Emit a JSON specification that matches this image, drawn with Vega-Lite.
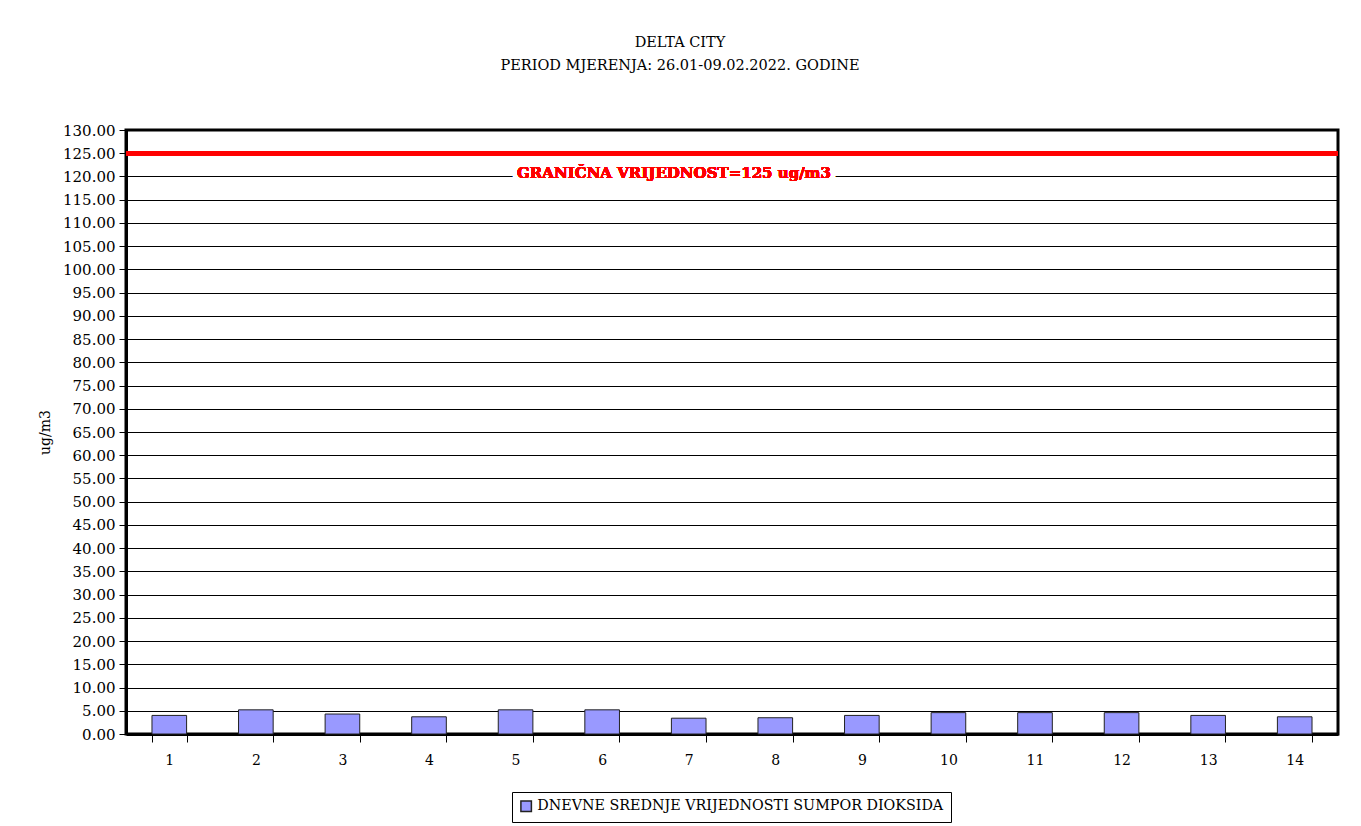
{
  "$schema": "https://vega.github.io/schema/vega-lite/v6.json",
  "autosize": {"type": "none"},
  "width": 1212,
  "height": 604,
  "padding": {"left": 126, "top": 130, "right": 23, "bottom": 92},
  "background": "white",
  "title": {
    "text": ["DELTA CITY", "PERIOD MJERENJA: 26.01-09.02.2022. GODINE"],
    "anchor": "middle",
    "dx": -52,
    "offset": 50,
    "font": "DejaVu Serif",
    "fontSize": 14.5,
    "fontWeight": "normal",
    "color": "#000000",
    "lineHeight": 23
  },
  "config": {
    "view": {"stroke": "#000000", "strokeWidth": 3},
    "font": "DejaVu Serif",
    "axisY": {
      "labelOverlap": false,
      "labelFlush": false,
      "grid": true,
      "gridColor": "#000000",
      "domainColor": "#000000",
      "domainWidth": 3,
      "tickColor": "#000000",
      "tickSize": 7,
      "labelPadding": 4,
      "labelFont": "DejaVu Serif",
      "labelFontSize": 15,
      "labelColor": "#000000",
      "titleFont": "DejaVu Serif",
      "titleFontSize": 14,
      "titleFontWeight": "normal",
      "titleColor": "#000000",
      "titlePadding": 10
    }
  },
  "data": {
    "values": [
      {"dan": 1, "vrijednost": 4.0, "serija": "DNEVNE SREDNJE VRIJEDNOSTI SUMPOR DIOKSIDA"},
      {"dan": 2, "vrijednost": 5.2, "serija": "DNEVNE SREDNJE VRIJEDNOSTI SUMPOR DIOKSIDA"},
      {"dan": 3, "vrijednost": 4.3, "serija": "DNEVNE SREDNJE VRIJEDNOSTI SUMPOR DIOKSIDA"},
      {"dan": 4, "vrijednost": 3.7, "serija": "DNEVNE SREDNJE VRIJEDNOSTI SUMPOR DIOKSIDA"},
      {"dan": 5, "vrijednost": 5.2, "serija": "DNEVNE SREDNJE VRIJEDNOSTI SUMPOR DIOKSIDA"},
      {"dan": 6, "vrijednost": 5.2, "serija": "DNEVNE SREDNJE VRIJEDNOSTI SUMPOR DIOKSIDA"},
      {"dan": 7, "vrijednost": 3.4, "serija": "DNEVNE SREDNJE VRIJEDNOSTI SUMPOR DIOKSIDA"},
      {"dan": 8, "vrijednost": 3.5, "serija": "DNEVNE SREDNJE VRIJEDNOSTI SUMPOR DIOKSIDA"},
      {"dan": 9, "vrijednost": 4.0, "serija": "DNEVNE SREDNJE VRIJEDNOSTI SUMPOR DIOKSIDA"},
      {"dan": 10, "vrijednost": 4.6, "serija": "DNEVNE SREDNJE VRIJEDNOSTI SUMPOR DIOKSIDA"},
      {"dan": 11, "vrijednost": 4.6, "serija": "DNEVNE SREDNJE VRIJEDNOSTI SUMPOR DIOKSIDA"},
      {"dan": 12, "vrijednost": 4.6, "serija": "DNEVNE SREDNJE VRIJEDNOSTI SUMPOR DIOKSIDA"},
      {"dan": 13, "vrijednost": 4.0, "serija": "DNEVNE SREDNJE VRIJEDNOSTI SUMPOR DIOKSIDA"},
      {"dan": 14, "vrijednost": 3.7, "serija": "DNEVNE SREDNJE VRIJEDNOSTI SUMPOR DIOKSIDA"}
    ]
  },
  "layer": [
    {
      "mark": {"type": "bar", "stroke": "#222222", "strokeWidth": 1},
      "encoding": {
        "x": {
          "field": "dan",
          "type": "ordinal",
          "scale": {"paddingInner": 0.6, "paddingOuter": 0.3},
          "axis": {
            "title": null,
            "labelAngle": 0,
            "tickBand": "extent",
            "domainColor": "#000000",
            "domainWidth": 3,
            "tickColor": "#000000",
            "tickSize": 8,
            "labelPadding": 11,
            "labelFont": "DejaVu Serif",
            "labelFontSize": 14,
            "labelColor": "#000000"
          }
        },
        "y": {
          "field": "vrijednost",
          "type": "quantitative",
          "scale": {"domain": [0, 130], "nice": false},
          "axis": {
            "title": "ug/m3",
            "format": ".2f",
            "values": [0,5,10,15,20,25,30,35,40,45,50,55,60,65,70,75,80,85,90,95,100,105,110,115,120,125,130]
          }
        },
        "color": {
          "field": "serija",
          "type": "nominal",
          "scale": {"range": ["#9999FF"]},
          "legend": {
            "title": null,
            "orient": "none",
            "legendX": 386,
            "legendY": 662,
            "direction": "horizontal",
            "strokeColor": "#000000",
            "padding": 7,
            "symbolType": "square",
            "symbolSize": 110,
            "symbolStrokeColor": "#222222",
            "labelFont": "DejaVu Serif",
            "labelFontSize": 14.3,
            "labelColor": "#000000",
            "labelLimit": 600
          }
        }
      }
    },
    {
      "mark": {"type": "rule", "color": "#FF0000", "strokeWidth": 4},
      "encoding": {
        "y": {
          "datum": 125,
          "type": "quantitative",
          "axis": {
            "title": "ug/m3",
            "format": ".2f",
            "values": [0,5,10,15,20,25,30,35,40,45,50,55,60,65,70,75,80,85,90,95,100,105,110,115,120,125,130]
          }
        }
      }
    },
    {
      "mark": {
        "type": "text",
        "text": "GRANIČNA VRIJEDNOST=125 ug/m3",
        "font": "DejaVu Serif",
        "fontSize": 15,
        "fontWeight": "bold",
        "color": "#FFFFFF",
        "stroke": "#FFFFFF",
        "strokeWidth": 10,
        "strokeJoin": "round",
        "dx": -58,
        "baseline": "middle",
        "align": "center"
      },
      "encoding": {
        "y": {
          "datum": 120.7,
          "type": "quantitative",
          "axis": {
            "title": "ug/m3",
            "format": ".2f",
            "values": [0,5,10,15,20,25,30,35,40,45,50,55,60,65,70,75,80,85,90,95,100,105,110,115,120,125,130]
          }
        }
      }
    },
    {
      "mark": {
        "type": "text",
        "text": "GRANIČNA VRIJEDNOST=125 ug/m3",
        "font": "DejaVu Serif",
        "fontSize": 15,
        "fontWeight": "bold",
        "color": "#FF0000",
        "dx": -58,
        "baseline": "middle",
        "align": "center"
      },
      "encoding": {
        "y": {
          "datum": 120.7,
          "type": "quantitative",
          "axis": {
            "title": "ug/m3",
            "format": ".2f",
            "values": [0,5,10,15,20,25,30,35,40,45,50,55,60,65,70,75,80,85,90,95,100,105,110,115,120,125,130]
          }
        }
      }
    }
  ]
}
